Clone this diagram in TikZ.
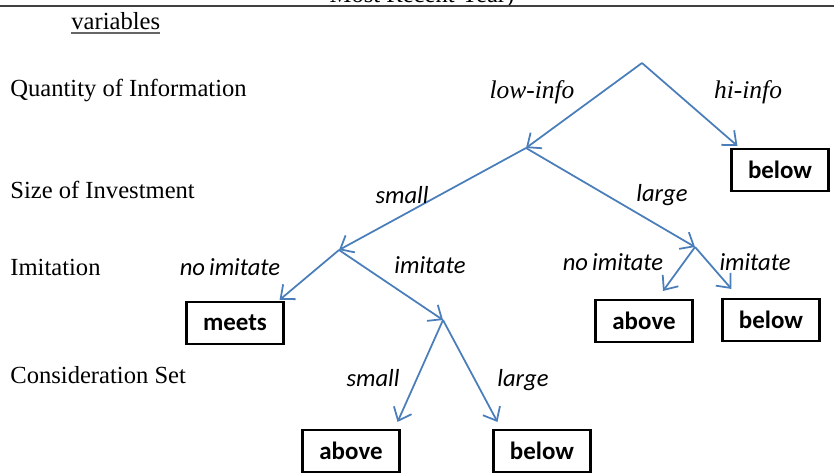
\documentclass[tikz,border=0pt]{standalone}
\usepackage{fontspec}
\setmainfont{Liberation Serif}
\newfontfamily\calibri{Carlito}
\usetikzlibrary{arrows.meta}
\definecolor{treeblue}{RGB}{74,126,187}

\tikzset{
  varlabel/.style={anchor=base west, inner sep=0pt, font=\fontsize{14}{16}\selectfont},
  branch/.style={font=\fontsize{14}{16}\selectfont\calibri\itshape},
  infolabel/.style={font=\fontsize{14.5}{16}\selectfont\itshape},
  outcome/.style={draw, line width=1.2pt, fill=white, minimum width=1.94cm, minimum height=0.84cm,
    inner sep=0pt, font=\fontsize{14.2}{16}\selectfont\calibri\bfseries},
  arc/.style={treeblue, line width=1pt, -{Straight Barb[length=6.5pt,width=11pt]}}
}

\begin{document}
\begin{tikzpicture}[x=0.02cm, y=-0.02cm]
              \useasboundingbox (0,0) rectangle (834,476);
              \clip (0,0) rectangle (834,476);
              % Table header cut off at the top
              \node[anchor=base, font=\fontsize{14}{16}\selectfont] (header) at (422,2.5) {Most Recent Year)};
              \draw[line width=1pt, black!75] (0,6)--(834,6);
              \node[varlabel] (vars) at (71,30) {variables};
              \draw[line width=0.8pt, black!60] ([shift={(0,3)}]vars.base west) -- ([shift={(0,3)}]vars.base east);
              % Variable names
              \node[varlabel] (quant) at (10,97) {Quantity of Information};
              \node[varlabel] (size) at (10,198) {Size of Investment};
              \node[varlabel] (imit) at (10,275) {Imitation};
              \node[varlabel] (cons) at (10,383) {Consideration Set};
              % Branch points
              \coordinate (root) at (642,63);
              \coordinate (lowinfo) at (526,148);
              \coordinate (smallinv) at (339,250);
              \coordinate (largeinv) at (695,247);
              \coordinate (imitpt) at (443,320);
              % Outcomes
              \node[outcome] (hibelow) at (780,170) {below};
              \node[outcome] (meets) at (235,323) {meets};
              \node[outcome] (noimabove) at (644,321) {above};
              \node[outcome] (imbelow) at (771,320) {below};
              \node[outcome] (smallabove) at (351,451) {above};
              \node[outcome] (largebelow) at (542,451) {below};
              % Tree
              \draw[arc] (root)--(lowinfo);
              \draw[arc] (root)--([shift={(7,-2)}]hibelow.north west);
              \draw[arc] (lowinfo)--(smallinv);
              \draw[arc] (lowinfo)--(largeinv);
              \draw[arc] (smallinv)--([shift={(-5,-1)}]meets.north east);
              \draw[arc] (smallinv)--(imitpt);
              \draw[arc] (largeinv)--([shift={(19,-8)}]noimabove.north);
              \draw[arc] (largeinv)--([shift={(10,-9)}]imbelow.north west);
              \draw[arc] (imitpt)--([shift={(-3,-7)}]smallabove.north east);
              \draw[arc] (imitpt)--([shift={(5,-7)}]largebelow.north west);
              % Branch labels
              \node[infolabel] (lowlbl) at (532,92) {low-info};
              \node[infolabel] (hilbl) at (748,92) {hi-info};
              \node[branch] (smalllbl) at (402,195) {small};
              \node[branch] (largelbl) at (662,195) {large};
              \node[branch] (noimlbl) at (230,267) {no\,imitate};
              \node[branch] (imlbl) at (430,265) {imitate};
              \node[branch] (noimlblb) at (613,262) {no\,imitate};
              \node[branch] (imlblb) at (755,262) {imitate};
              \node[branch] (smalllblb) at (373,378) {small};
              \node[branch] (largelblb) at (523,380) {large};

      \end{tikzpicture}
\end{document}
